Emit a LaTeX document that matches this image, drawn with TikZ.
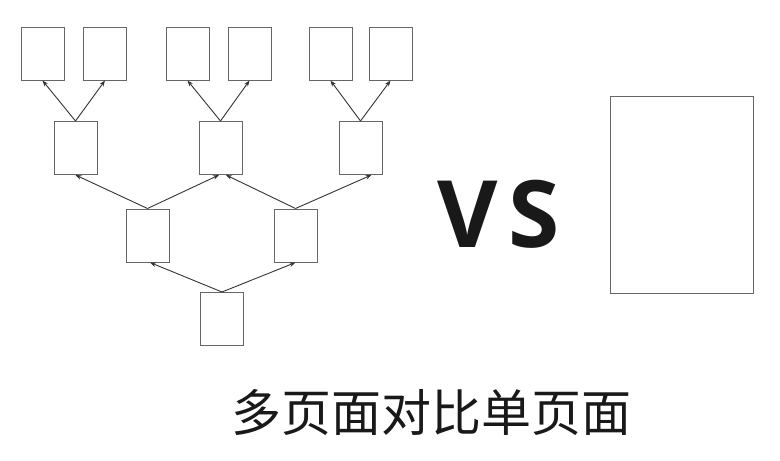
\documentclass[tikz,border=0pt]{standalone}
\usepackage{fontspec}
\newfontfamily\cjk{Noto Sans CJK SC}
\newfontfamily\vsfont{Open Sans}[BoldFont={Open Sans Bold}]
\usetikzlibrary{arrows.meta}
\begin{document}
\begin{tikzpicture}[x=1pt,y=-1pt,
  page/.style={draw=black!60, line width=1pt, rectangle, inner sep=0pt,
               minimum width=43pt, minimum height=53pt, fill=white},
  link/.style={draw=black!80, line width=0.9pt, -{Stealth[length=6pt,width=4.5pt]}}]
\useasboundingbox (0,0) rectangle (780,461);
% top row
\node[page] (t1) at (42.5,53.5) {};
\node[page] (t2) at (105,53.5) {};
\node[page] (t3) at (187.5,53.5) {};
\node[page] (t4) at (249.5,53.5) {};
\node[page] (t5) at (330.5,53.5) {};
\node[page] (t6) at (390.5,53.5) {};
% middle row
\node[page] (m1) at (75.5,148) {};
\node[page] (m2) at (220.5,148) {};
\node[page] (m3) at (360.5,148) {};
% third row
\node[page] (r1) at (147.5,235.5) {};
\node[page] (r2) at (295.5,235.5) {};
% bottom
\node[page] (b) at (222,319) {};
% single page
\node[page, minimum width=143pt, minimum height=197pt] (big) at (681.5,194.5) {};
% arrows
\draw[link] (m1.north) -- (t1.south);
\draw[link] (m1.north) -- (t2.south);
\draw[link] (m2.north) -- (t3.south);
\draw[link] (m2.north) -- (t4.south);
\draw[link] (m3.north) -- (t5.south);
\draw[link] (m3.north) -- (t6.south);
\draw[link] (r1.north) -- (m1.south);
\draw[link] (r1.north) -- ([xshift=-1.5pt]m2.south);
\draw[link] (r2.north) -- ([xshift=5.5pt]m2.south);
\draw[link] (r2.north) -- ([xshift=11pt]m3.south);
\draw[link] (b.north) -- ([xshift=2.5pt]r1.south);
\draw[link] (b.north) -- (r2.south);
% texts
\node[anchor=base, inner sep=0pt, text=black!90] (vs) at (498.5,247)
  {\vsfont\bfseries\fontsize{93}{93}\selectfont V\hspace{0.12em}S};
\node[inner sep=0pt, text=black!90] (cap) at (431.5,412.5)
  {\cjk\fontsize{50}{50}\selectfont 多页面对比单页面};
\end{tikzpicture}
\end{document}
